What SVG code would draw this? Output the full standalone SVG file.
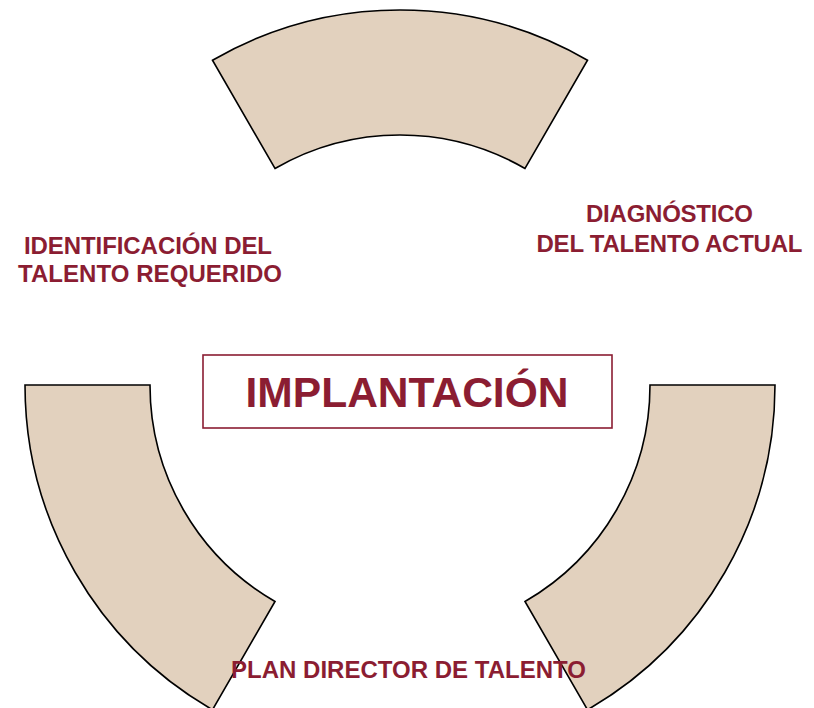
<svg xmlns="http://www.w3.org/2000/svg" width="814" height="708" viewBox="0 0 814 708">
<style>
.seg{fill:#E2D1BE;stroke:#000;stroke-width:1.6;stroke-linejoin:miter}
.lbl{font-family:"Liberation Sans",Arial,sans-serif;font-weight:bold;fill:#8B1D32;text-anchor:middle}
.box{fill:#fff;stroke:#8B1D32;stroke-width:1.6}
</style>
<rect width="814" height="708" fill="#fff"/>
<g id="segment-top">
<path class="seg" d="M212.5,60.24 A375,375 0 0 1 587.5,60.24 L525,168.49 A250,250 0 0 0 275,168.49 Z"/>
</g>
<g id="segment-left">
<path class="seg" d="M25,385 A375,375 0 0 0 212.5,709.76 L275,601.51 A250,250 0 0 1 150,385 Z"/>
</g>
<g id="segment-right">
<path class="seg" d="M775,385 A375,375 0 0 1 587.5,709.76 L525,601.51 A250,250 0 0 0 650,385 Z"/>
</g>
<g id="connectors"></g>
<g id="implantacion">
<rect class="box" x="203" y="355" width="409" height="73"/>
<text class="lbl" x="407" y="407" font-size="43" textLength="323" lengthAdjust="spacingAndGlyphs">IMPLANTACIÓN</text>
</g>
<g id="identificacion">
<text class="lbl" font-size="24"><tspan x="148" y="254" textLength="248">IDENTIFICACIÓN DEL</tspan><tspan x="150" y="282" textLength="264">TALENTO REQUERIDO</tspan></text>
</g>
<g id="diagnostico">
<text class="lbl" font-size="24"><tspan x="669.5" y="222" textLength="167">DIAGNÓSTICO</tspan><tspan x="669.5" y="252" textLength="266">DEL TALENTO ACTUAL</tspan></text>
</g>
<g id="plan-director">
<text class="lbl" x="408.5" y="678" font-size="24" textLength="355">PLAN DIRECTOR DE TALENTO</text>
</g>
</svg>
